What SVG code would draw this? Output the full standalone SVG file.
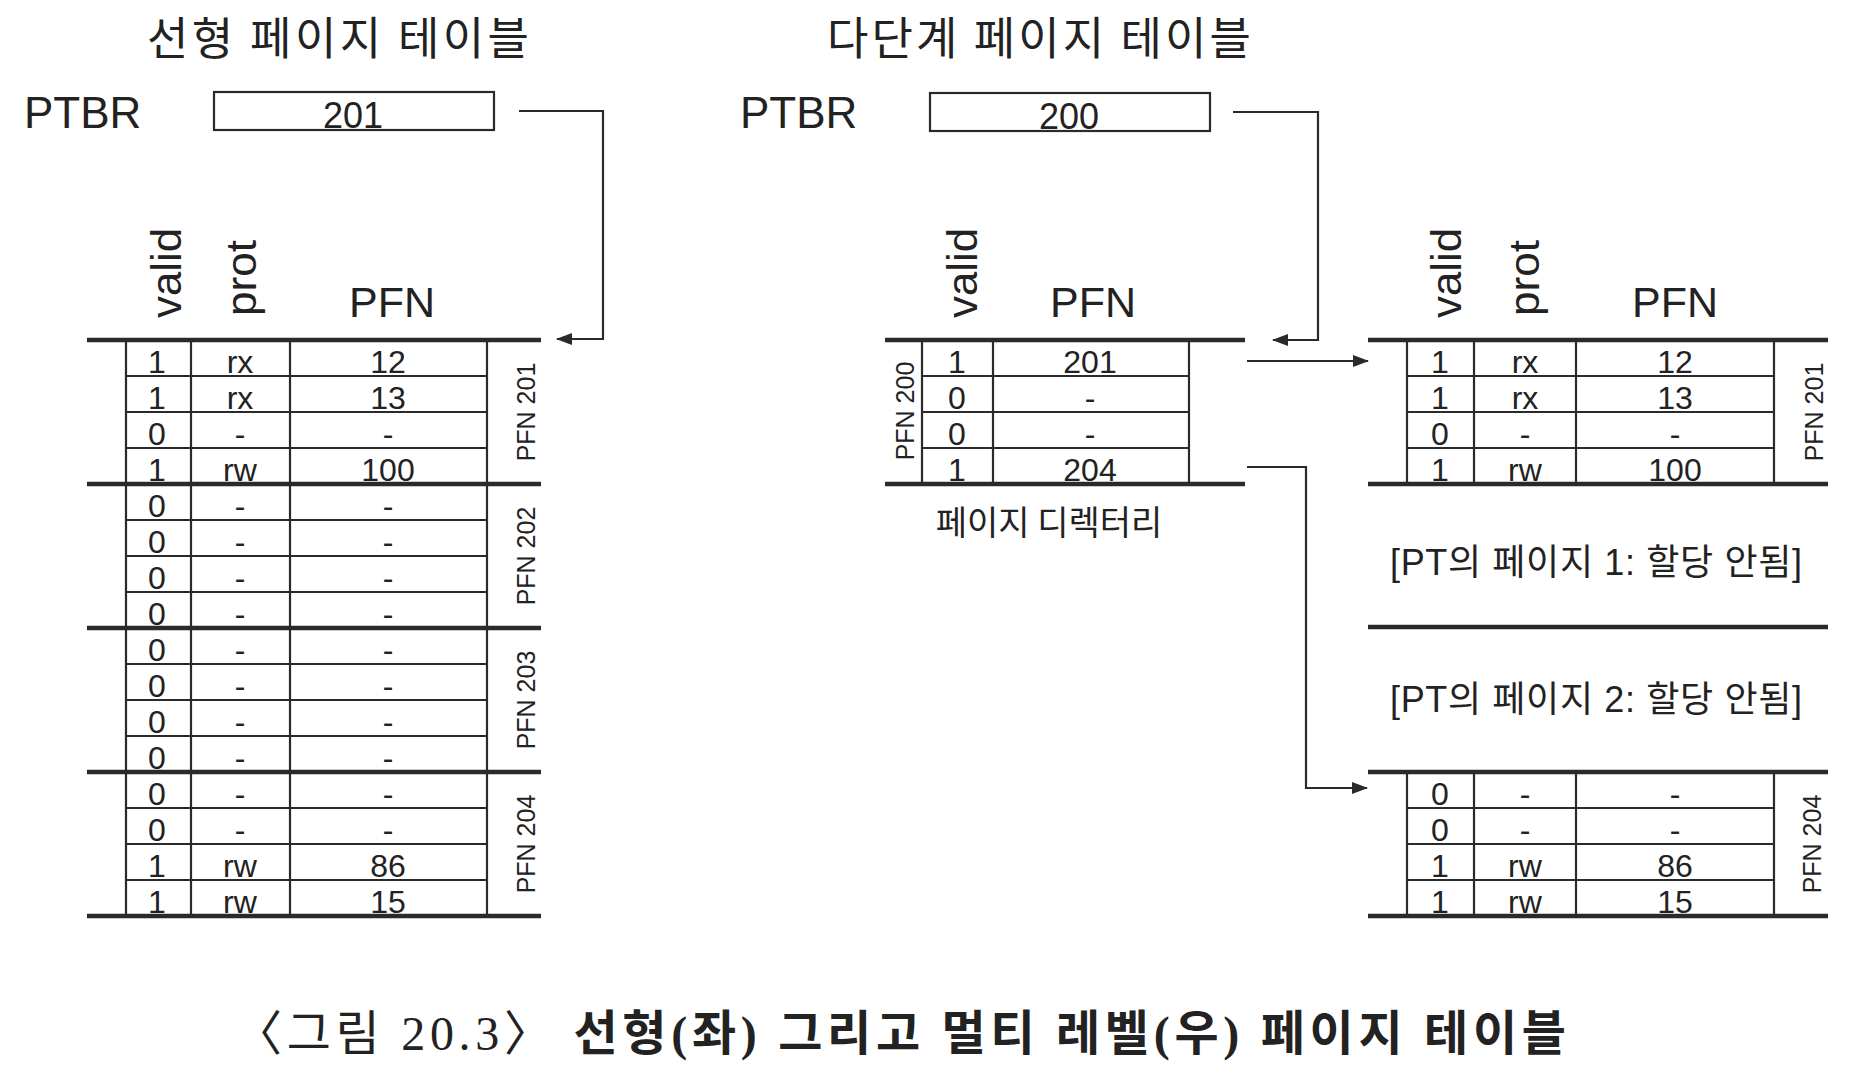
<svg xmlns="http://www.w3.org/2000/svg" width="1876" height="1084" viewBox="0 0 1876 1084">
<style>
  .title{font-family:"Noto Sans CJK KR","Noto Sans",sans-serif;font-size:45px;fill:#222;text-anchor:middle}
  .ptbr{font-family:"Liberation Sans",Arial,sans-serif;font-size:44px;fill:#222}
  .boxv{font-family:"Liberation Sans",Arial,sans-serif;font-size:36px;fill:#222;text-anchor:middle}
  .hdr{font-family:"Liberation Sans",Arial,sans-serif;font-size:42px;fill:#222}
  .hdrm{font-family:"Liberation Sans",Arial,sans-serif;font-size:43px;fill:#222;text-anchor:middle}
  .cell{font-family:"Liberation Sans",Arial,sans-serif;font-size:32px;fill:#222;text-anchor:middle}
  .lbl{font-family:"Liberation Sans",Arial,sans-serif;font-size:25px;fill:#222;text-anchor:middle}
  .kr{font-family:"Noto Sans CJK KR","Noto Sans",sans-serif;font-size:34px;fill:#222;text-anchor:middle}
  .krn{font-family:"Liberation Sans","Noto Sans CJK KR",sans-serif;font-size:36px;fill:#222;text-anchor:middle}
  .cap{font-family:"Liberation Serif","Noto Sans CJK KR",serif;font-size:48px;fill:#222;text-anchor:middle}
  .thick{stroke:#2a2a2a;stroke-width:4.5;fill:none}
  .thin{stroke:#2a2a2a;stroke-width:2.2;fill:none}
  .box{stroke:#2a2a2a;stroke-width:2.2;fill:none}
  .conn{stroke:#2a2a2a;stroke-width:2.2;fill:none}
</style>
<defs>
  <marker id="ah" markerUnits="userSpaceOnUse" markerWidth="16" markerHeight="12" refX="15" refY="6" orient="auto">
    <path d="M0,0 L16,6 L0,12 z" fill="#2a2a2a"/>
  </marker>
</defs>
<rect width="1876" height="1084" fill="#fff"/>

<!-- Titles -->
<g id="title-linear"><text class="title" x="338" y="55" textLength="382">선형 페이지 테이블</text></g>
<g id="title-multi"><text class="title" x="1039" y="55" textLength="424">다단계 페이지 테이블</text></g>

<!-- PTBR left -->
<g id="ptbr-left">
  <text class="ptbr" x="24" y="128">PTBR</text>
  <rect class="box" x="214" y="92" width="280" height="38"/>
  <text class="boxv" x="353" y="128">201</text>
</g>

<!-- PTBR right -->
<g id="ptbr-right">
  <text class="ptbr" x="740" y="128">PTBR</text>
  <rect class="box" x="930" y="93" width="280" height="38"/>
  <text class="boxv" x="1069" y="129">200</text>
</g>

<!-- Linear page table -->
<g id="linear-table">
  <text class="hdr" transform="translate(181,318) rotate(-90)" textLength="90" lengthAdjust="spacingAndGlyphs">valid</text>
  <text class="hdr" transform="translate(256,316) rotate(-90)" textLength="76" lengthAdjust="spacingAndGlyphs">prot</text>
  <text class="hdrm" x="392" y="317">PFN</text>
  <path class="thick" d="M87,340 H541 M87,484 H541 M87,628 H541 M87,772 H541 M87,916 H541"/>
  <path class="thin" d="M126,340 V916 M191,340 V916 M290,340 V916 M487,340 V916"/>
  <path class="thin" d="M126,376 H487 M126,412 H487 M126,448 H487 M126,520 H487 M126,556 H487 M126,592 H487 M126,664 H487 M126,700 H487 M126,736 H487 M126,808 H487 M126,844 H487 M126,880 H487"/>
  <g>
    <text class="cell" x="157" y="373">1</text><text class="cell" x="240" y="373">rx</text><text class="cell" x="388" y="373">12</text>
    <text class="cell" x="157" y="409">1</text><text class="cell" x="240" y="409">rx</text><text class="cell" x="388" y="409">13</text>
    <text class="cell" x="157" y="445">0</text><text class="cell" x="240" y="445">-</text><text class="cell" x="388" y="445">-</text>
    <text class="cell" x="157" y="481">1</text><text class="cell" x="240" y="481">rw</text><text class="cell" x="388" y="481">100</text>
    <text class="cell" x="157" y="517">0</text><text class="cell" x="240" y="517">-</text><text class="cell" x="388" y="517">-</text>
    <text class="cell" x="157" y="553">0</text><text class="cell" x="240" y="553">-</text><text class="cell" x="388" y="553">-</text>
    <text class="cell" x="157" y="589">0</text><text class="cell" x="240" y="589">-</text><text class="cell" x="388" y="589">-</text>
    <text class="cell" x="157" y="625">0</text><text class="cell" x="240" y="625">-</text><text class="cell" x="388" y="625">-</text>
    <text class="cell" x="157" y="661">0</text><text class="cell" x="240" y="661">-</text><text class="cell" x="388" y="661">-</text>
    <text class="cell" x="157" y="697">0</text><text class="cell" x="240" y="697">-</text><text class="cell" x="388" y="697">-</text>
    <text class="cell" x="157" y="733">0</text><text class="cell" x="240" y="733">-</text><text class="cell" x="388" y="733">-</text>
    <text class="cell" x="157" y="769">0</text><text class="cell" x="240" y="769">-</text><text class="cell" x="388" y="769">-</text>
    <text class="cell" x="157" y="805">0</text><text class="cell" x="240" y="805">-</text><text class="cell" x="388" y="805">-</text>
    <text class="cell" x="157" y="841">0</text><text class="cell" x="240" y="841">-</text><text class="cell" x="388" y="841">-</text>
    <text class="cell" x="157" y="877">1</text><text class="cell" x="240" y="877">rw</text><text class="cell" x="388" y="877">86</text>
    <text class="cell" x="157" y="913">1</text><text class="cell" x="240" y="913">rw</text><text class="cell" x="388" y="913">15</text>
  </g>
  <text class="lbl" transform="translate(535,412) rotate(-90)">PFN 201</text>
  <text class="lbl" transform="translate(535,556) rotate(-90)">PFN 202</text>
  <text class="lbl" transform="translate(535,700) rotate(-90)">PFN 203</text>
  <text class="lbl" transform="translate(535,844) rotate(-90)">PFN 204</text>
</g>

<!-- Page directory -->
<g id="page-directory">
  <text class="hdr" transform="translate(977,318) rotate(-90)" textLength="90" lengthAdjust="spacingAndGlyphs">valid</text>
  <text class="hdrm" x="1093" y="317">PFN</text>
  <path class="thick" d="M885,340 H1245 M885,484 H1245"/>
  <path class="thin" d="M922,340 V484 M993,340 V484 M1189,340 V484"/>
  <path class="thin" d="M922,376 H1189 M922,412 H1189 M922,448 H1189"/>
  <text class="cell" x="957" y="373">1</text><text class="cell" x="1090" y="373">201</text>
  <text class="cell" x="957" y="409">0</text><text class="cell" x="1090" y="409">-</text>
  <text class="cell" x="957" y="445">0</text><text class="cell" x="1090" y="445">-</text>
  <text class="cell" x="957" y="481">1</text><text class="cell" x="1090" y="481">204</text>
  <text class="lbl" transform="translate(914,411) rotate(-90)">PFN 200</text>
  <text class="kr" x="1049" y="535">페이지 디렉터리</text>
</g>

<!-- Multi-level page table: PFN 201 -->
<g id="pt-pfn201">
  <text class="hdr" transform="translate(1461,318) rotate(-90)" textLength="90" lengthAdjust="spacingAndGlyphs">valid</text>
  <text class="hdr" transform="translate(1539,316) rotate(-90)" textLength="76" lengthAdjust="spacingAndGlyphs">prot</text>
  <text class="hdrm" x="1675" y="317">PFN</text>
  <path class="thick" d="M1368,340 H1828 M1368,484 H1828"/>
  <path class="thin" d="M1407,340 V484 M1474,340 V484 M1576,340 V484 M1774,340 V484"/>
  <path class="thin" d="M1407,376 H1774 M1407,412 H1774 M1407,448 H1774"/>
  <text class="cell" x="1440" y="373">1</text><text class="cell" x="1525" y="373">rx</text><text class="cell" x="1675" y="373">12</text>
  <text class="cell" x="1440" y="409">1</text><text class="cell" x="1525" y="409">rx</text><text class="cell" x="1675" y="409">13</text>
  <text class="cell" x="1440" y="445">0</text><text class="cell" x="1525" y="445">-</text><text class="cell" x="1675" y="445">-</text>
  <text class="cell" x="1440" y="481">1</text><text class="cell" x="1525" y="481">rw</text><text class="cell" x="1675" y="481">100</text>
  <text class="lbl" transform="translate(1823,412) rotate(-90)">PFN 201</text>
</g>

<!-- Unallocated pages -->
<g id="pt-page1">
  <text class="krn" x="1596" y="575" textLength="412">[PT의 페이지 1: 할당 안됨]</text>
  <path class="thick" d="M1368,627 H1828"/>
</g>
<g id="pt-page2">
  <text class="krn" x="1596" y="712" textLength="412">[PT의 페이지 2: 할당 안됨]</text>
</g>

<!-- Multi-level page table: PFN 204 -->
<g id="pt-pfn204">
  <path class="thick" d="M1368,772 H1828 M1368,916 H1828"/>
  <path class="thin" d="M1407,772 V916 M1474,772 V916 M1576,772 V916 M1774,772 V916"/>
  <path class="thin" d="M1407,808 H1774 M1407,844 H1774 M1407,880 H1774"/>
  <text class="cell" x="1440" y="805">0</text><text class="cell" x="1525" y="805">-</text><text class="cell" x="1675" y="805">-</text>
  <text class="cell" x="1440" y="841">0</text><text class="cell" x="1525" y="841">-</text><text class="cell" x="1675" y="841">-</text>
  <text class="cell" x="1440" y="877">1</text><text class="cell" x="1525" y="877">rw</text><text class="cell" x="1675" y="877">86</text>
  <text class="cell" x="1440" y="913">1</text><text class="cell" x="1525" y="913">rw</text><text class="cell" x="1675" y="913">15</text>
  <text class="lbl" transform="translate(1821,844) rotate(-90)">PFN 204</text>
</g>

<!-- Connectors -->
<g id="connectors">
  <path class="conn" d="M519,111 H603 V339 H557" marker-end="url(#ah)"/>
  <path class="conn" d="M1233,112 H1318 V340 H1273" marker-end="url(#ah)"/>
  <path class="conn" d="M1247,361 H1368" marker-end="url(#ah)"/>
  <path class="conn" d="M1247,467 H1306 V788 H1367" marker-end="url(#ah)"/>
</g>

<!-- Caption -->
<g id="caption">
  <text class="cap" x="900" y="1050" textLength="1332">〈그림 20.3〉 <tspan font-weight="bold">선형(좌) 그리고 멀티 레벨(우) 페이지 테이블</tspan></text>
</g>
</svg>
